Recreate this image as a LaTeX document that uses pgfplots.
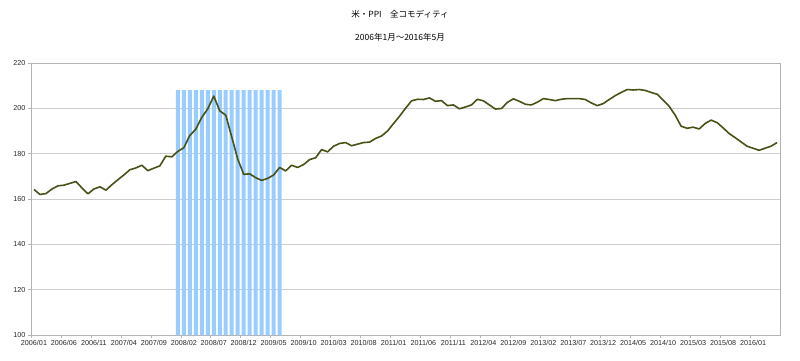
\documentclass[border=0pt]{standalone}
\usepackage{pgfplots}
\pgfplotsset{compat=1.18}
\usepackage{fontspec}
\setmainfont{Liberation Sans}
\newfontfamily\cjk{Noto Sans CJK JP}
\definecolor{lineolive}{RGB}{70,82,22}
\definecolor{barblue}{RGB}{153,204,255}
\definecolor{gridgray}{RGB}{205,205,205}
\definecolor{axgray}{RGB}{180,180,180}
\definecolor{txt}{RGB}{40,40,40}
\pgfplotstableread{
x y
0 164.2
1 162.0
2 162.4
3 164.4
4 165.8
5 166.1
6 166.9
7 167.7
8 164.9
9 162.3
10 164.4
11 165.4
12 163.9
13 166.3
14 168.5
15 170.6
16 172.9
17 173.7
18 174.9
19 172.5
20 173.6
21 174.6
22 178.9
23 178.6
24 181.0
25 182.6
26 188.0
27 190.8
28 196.0
29 199.8
30 205.4
31 198.9
32 197.0
33 187.4
34 177.6
35 170.9
36 171.1
37 169.4
38 168.2
39 169.1
40 170.6
41 173.9
42 172.4
43 174.9
44 173.9
45 175.2
46 177.4
47 178.2
48 181.8
49 180.8
50 183.3
51 184.5
52 184.9
53 183.5
54 184.2
55 184.9
56 185.1
57 186.7
58 187.8
59 190.0
60 193.3
61 196.5
62 200.0
63 203.3
64 204.0
65 203.9
66 204.6
67 203.1
68 203.4
69 201.2
70 201.5
71 199.8
72 200.6
73 201.5
74 204.0
75 203.3
76 201.5
77 199.7
78 199.9
79 202.6
80 204.2
81 203.1
82 201.8
83 201.5
84 202.7
85 204.3
86 203.9
87 203.4
88 204.0
89 204.3
90 204.3
91 204.3
92 203.9
93 202.4
94 201.2
95 202.1
96 203.9
97 205.6
98 207.0
99 208.3
100 208.1
101 208.3
102 207.9
103 207.0
104 206.2
105 203.6
106 200.9
107 197.0
108 192.1
109 191.2
110 191.7
111 190.9
112 193.3
113 194.8
114 193.7
115 191.4
116 188.9
117 187.1
118 185.2
119 183.3
120 182.4
121 181.5
122 182.4
123 183.3
124 184.9
}\ppidata
\pgfplotstableread{
x y
24 208
25 208
26 208
27 208
28 208
29 208
30 208
31 208
32 208
33 208
34 208
35 208
36 208
37 208
38 208
39 208
40 208
41 208
}\recdata
\begin{document}
\begin{tikzpicture}
\path[use as bounding box] (0,0) rectangle (800pt,360pt);
\node[font=\cjk\fontsize{8.5}{10}\selectfont, text=black] at (400pt,346pt) {米・PPI　全コモディティ};
\node[font=\cjk\fontsize{8.5}{10}\selectfont, text=black] at (400pt,323pt) {2006年1月～2016年5月};
\begin{axis}[
  at={(31pt,25pt)}, anchor=south west,
  scale only axis, width=749pt, height=272pt,
  xmin=-0.5, xmax=124.5, ymin=100, ymax=220,
  ytick={100,120,...,220},
  ymajorgrids, grid style={draw=gridgray, line width=0.6pt},
  axis line style={draw=axgray, line width=0.6pt},
  xtick={0,5,...,120},
  xticklabels={2006/01,2006/06,2006/11,2007/04,2007/09,2008/02,2008/07,2008/12,2009/05,2009/10,2010/03,2010/08,2011/01,2011/06,2011/11,2012/04,2012/09,2013/02,2013/07,2013/12,2014/05,2014/10,2015/03,2015/08,2016/01},
  major x tick style={draw=none},
  minor xtick={-0.5,4.5,...,119.5},
  minor tick length=3pt, major tick length=3pt,
  tick style={draw=axgray, line width=0.6pt},
  tick align=outside, tick pos=left,
  ticklabel style={font=\fontsize{7.2}{8}\selectfont, text=txt},
  xticklabel style={yshift=1pt},
  yticklabel style={xshift=1pt},
  /pgf/number format/assume math mode=true,
  clip=true,
]
\addplot[ybar, bar width=4pt, fill=barblue, draw=none] table[x=x,y=y] {\recdata};
\addplot[color=lineolive, line width=1.6pt, mark=none, line join=round] table[x=x,y=y] {\ppidata};
\end{axis}
\end{tikzpicture}
\end{document}
